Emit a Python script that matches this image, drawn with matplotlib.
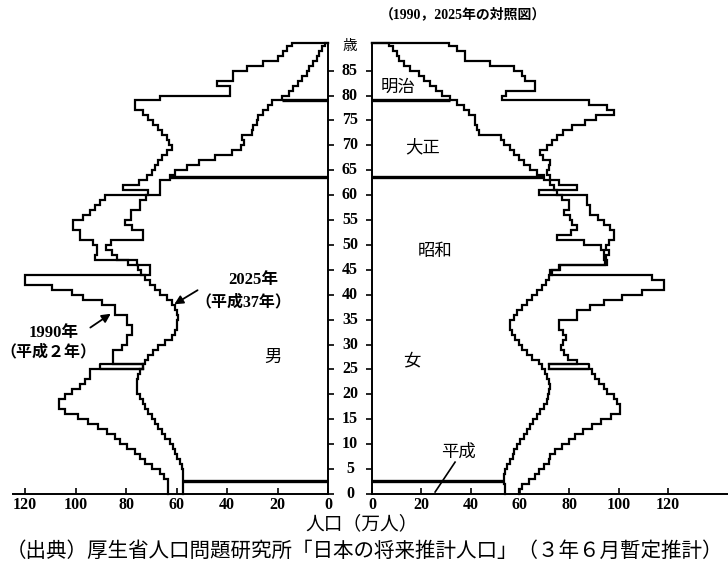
import numpy as np
import matplotlib
matplotlib.use("Agg")
import matplotlib.pyplot as plt
from matplotlib.transforms import blended_transform_factory

# ---------------- data (population, 10 thousand persons, by single year of age 0..90) -------------
male_1990 = [63.3, 63.3, 63.6, 65.0, 66.6, 69.9, 72.5, 74.5, 76.5, 79.8,
             82.4, 84.4, 87.7, 91.0, 95.0, 98.9, 104.2, 106.4, 106.4, 104.2,
             101.5, 98.3, 96.3, 94.3, 94.3, 73.2, 85.1, 85.1, 85.1, 81.8,
             79.8, 79.8, 77.8, 77.8, 79.8, 79.8, 84.4, 84.4, 89.7, 97.0,
             101.5, 109.5, 120.0, 120.0, 70.6, 70.6, 79.3, 83.7, 85.7, 88.0,
             86.0, 73.5, 73.5, 77.8, 80.5, 78.0, 78.0, 74.5, 74.5, 72.0,
             66.6, 66.6, 66.6, 62.6, 60.5, 56.0, 51.0, 45.0, 38.0, 34.5,
             33.5, 34.3, 30.3, 29.7, 28.3, 27.7, 25.7, 23.7, 22.4, 18.5,
             15.5, 13.9, 11.9, 10.5, 8.6, 7.5, 6.0, 4.5, 3.5, 2.5, 1.3]

male_2025 = [57.4, 57.4, 57.4, 57.4, 57.4, 58.1, 58.7, 60.0, 60.6, 61.3,
             62.6, 64.6, 66.0, 67.3, 68.6, 69.9, 71.2, 72.5, 73.2, 74.5,
             75.8, 75.8, 75.8, 75.2, 74.5, 73.2, 72.5, 71.2, 69.3, 67.3,
             64.5, 62.0, 60.7, 60.0, 60.0, 59.4, 60.0, 60.7, 62.0, 64.0,
             66.6, 68.6, 70.6, 72.5, 74.0, 75.2, 75.8, 92.5, 91.7, 91.7,
             93.0, 98.3, 98.3, 100.9, 100.9, 96.9, 94.3, 92.3, 90.3, 88.4,
             71.2, 81.1, 75.0, 71.9, 69.9, 68.6, 67.3, 65.9, 64.0, 62.0,
             63.0, 64.0, 65.9, 67.3, 69.2, 71.2, 73.2, 76.5, 76.5, 66.6,
             38.9, 38.9, 44.2, 37.6, 37.6, 32.3, 25.7, 19.8, 17.8, 16.5, 14.5]

female_1990 = [59.5, 60.9, 63.6, 66.3, 67.6, 69.7, 72.0, 72.4, 74.4, 77.0,
               80.0, 82.5, 85.5, 89.2, 92.7, 97.0, 100.8, 100.8, 99.4, 98.1,
               95.3, 94.0, 92.0, 90.6, 89.2, 71.7, 83.2, 79.5, 77.8, 76.5,
               77.5, 78.5, 77.5, 75.7, 75.7, 83.2, 83.2, 88.5, 94.0, 101.4,
               109.5, 118.3, 118.3, 113.6, 72.4, 75.7, 94.5, 94.0, 94.0, 92.7,
               85.9, 75.1, 80.8, 83.2, 81.1, 80.5, 77.8, 79.8, 79.8, 77.1,
               75.0, 73.7, 72.4, 69.7, 66.8, 64.2, 61.5, 59.5, 57.5, 55.8,
               53.5, 52.5, 43.3, 42.5, 41.9, 41.9, 39.2, 37.2, 34.5, 31.5,
               28.4, 26.0, 23.7, 21.0, 18.9, 15.5, 13.0, 10.8, 10.1, 8.5, 7.0]

female_2025 = [54.1, 53.8, 53.4, 53.4, 54.1, 54.8, 56.1, 57.0, 57.5, 58.8,
               60.2, 61.5, 63.0, 64.2, 65.5, 66.9, 68.3, 69.7, 71.0, 71.4,
               71.7, 72.4, 71.7, 71.0, 70.3, 69.0, 67.6, 64.9, 62.9, 60.9,
               59.5, 58.2, 56.8, 56.1, 56.1, 57.5, 58.8, 61.0, 62.9, 64.9,
               66.9, 68.8, 70.5, 72.0, 73.0, 76.4, 95.3, 95.0, 96.0, 95.0,
               96.0, 98.1, 98.1, 96.7, 94.3, 91.5, 88.6, 88.6, 87.2, 87.2,
               67.6, 83.2, 75.7, 72.4, 71.0, 72.0, 72.4, 69.5, 68.3, 71.0,
               73.0, 75.1, 77.5, 81.0, 86.6, 91.0, 98.1, 95.3, 87.9, 52.7,
               54.5, 66.3, 66.3, 62.2, 60.9, 57.5, 48.0, 37.9, 37.9, 34.5, 31.1]

# era boundaries of 1990 (明治/大正, 大正/昭和, 昭和/平成), in years of age
era_ages = [79.0, 63.6, 2.6]
# 丙午 (1966) cohort box: age and outer edge of the box
hinoeuma_age = 25
male_hinoeuma_outer = 90.3
female_hinoeuma_outer = 87.9

age_ticks = list(range(0, 90, 5))
pop_ticks = [0, 20, 40, 60, 80, 100, 120]

AGE_TOP = 90.6
W, H = 728, 571

plt.rcParams["font.family"] = ["Liberation Serif", "Noto Sans CJK JP"]
MIX = dict(family=["Liberation Serif", "Noto Sans CJK JP"], weight="bold")
JP = dict(family=["Noto Sans CJK JP", "DejaVu Sans"])

fig = plt.figure(figsize=(W / 100, H / 100), dpi=100)
bottom = (H - 494) / H
height = 451.3 / H
ax_l = fig.add_axes([13 / W, bottom, 315.3 / W, height])
ax_r = fig.add_axes([372 / W, bottom, 356 / W, height])

ax_l.set_xlim(124.8, 0)
ax_r.set_xlim(0, 356 / 2.465)
for ax in (ax_l, ax_r):
    ax.set_ylim(0, AGE_TOP)
    ax.set_facecolor("none")
    for s in ax.spines.values():
        s.set_linewidth(1.4)
    ax.spines["top"].set_visible(False)
    ax.set_xticks(pop_ticks)
    ax.tick_params(axis="x", direction="in", length=4.5, width=1.2, pad=2,
                   labelsize=11.5)
    for lab in ax.get_xticklabels():
        lab.set_fontweight("bold")
ax_l.spines["left"].set_visible(False)
ax_r.spines["right"].set_visible(False)
ax_l.yaxis.tick_right()
ax_l.set_yticks(age_ticks)
ax_r.set_yticks(age_ticks)
ax_l.tick_params(axis="y", direction="out", length=4, width=1.2, labelright=False, labelleft=False)
ax_r.tick_params(axis="y", direction="out", length=4, width=1.2, labelleft=False)


def step_path(vals, top):
    xs, ys = [], []
    for a, v in enumerate(vals):
        xs += [v, v]
        ys += [a, min(a + 1, top)]
    xs.append(0)
    ys.append(top)
    return xs, ys


LW = 1.6
for ax, v90, v25, outer in ((ax_l, male_1990, male_2025, male_hinoeuma_outer),
                            (ax_r, female_1990, female_2025, female_hinoeuma_outer)):
    for vals in (v90, v25):
        xs, ys = step_path(vals, AGE_TOP)
        ax.plot(xs, ys, color="black", lw=LW, solid_joinstyle="miter", clip_on=False)
    for e in era_ages:
        i = int(np.floor(e))
        ax.plot([0, min(v90[i], v25[i])], [e, e], color="black", lw=2.4,
                solid_capstyle="butt", clip_on=False)
    d = v90[hinoeuma_age]
    a0, a1 = hinoeuma_age, hinoeuma_age + 1
    ax.plot([d, outer, outer, d], [a1, a1, a0, a0], color="black", lw=LW)

# central age labels
tr = blended_transform_factory(fig.transFigure, ax_l.transData)
for a in age_ticks:
    fig.text(350 / W, a, str(a), transform=tr, ha="center", va="center",
             fontsize=11.5, fontweight="bold")
fig.text(350 / W, 90.0, "歳", transform=tr, ha="center", va="center",
         fontsize=10.5, **JP)

# annotations, left (male) panel
ax_l.text(29.8, 43.0, "2025年", ha="center", va="center", fontsize=12, **MIX)
ax_l.text(33.8, 38.4, "（平成37年）", ha="center", va="center", fontsize=11.5, **MIX)
ax_l.annotate("", xy=(61.9, 37.8), xytext=(50.8, 41.2),
              arrowprops=dict(arrowstyle="-|>", color="black", lw=1.3, mutation_scale=13))
ax_l.text(108.9, 32.3, "1990年", ha="center", va="center", fontsize=12, **MIX)
ax_l.text(110.9, 28.5, "（平成２年）", ha="center", va="center", fontsize=11.5, **MIX)
ax_l.annotate("", xy=(85.2, 36.5), xytext=(95.1, 33.1),
              arrowprops=dict(arrowstyle="-|>", color="black", lw=1.3, mutation_scale=13))
ax_l.text(21.9, 27.5, "男", ha="center", va="center", fontsize=12.5, **JP)

# annotations, right (female) panel
ax_r.text(10.5, 81.7, "明治", ha="center", va="center", fontsize=12.5, **JP)
ax_r.text(20.7, 69.5, "大正", ha="center", va="center", fontsize=12.5, **JP)
ax_r.text(25.6, 48.8, "昭和", ha="center", va="center", fontsize=12.5, **JP)
ax_r.text(16.2, 26.9, "女", ha="center", va="center", fontsize=12.5, **JP)
ax_r.text(34.9, 8.4, "平成", ha="center", va="center", fontsize=12.5, **JP)
ax_r.plot([33.7, 25.6], [6.4, 0.4], color="black", lw=1.2)

fig.text(463 / W, 1 - 14 / H, "（1990，2025年の対照図）", ha="center", va="center",
         fontsize=10, **MIX)
fig.text(362 / W, 1 - 524 / H, "人口（万人）", ha="center", va="center",
         fontsize=13.5, **JP)
fig.text(365 / W, 1 - 551 / H,
         "（出典）厚生省人口問題研究所「日本の将来推計人口」（３年６月暫定推計）",
         ha="center", va="center", fontsize=14.8, **JP)

fig.savefig("out.png", dpi=100)
